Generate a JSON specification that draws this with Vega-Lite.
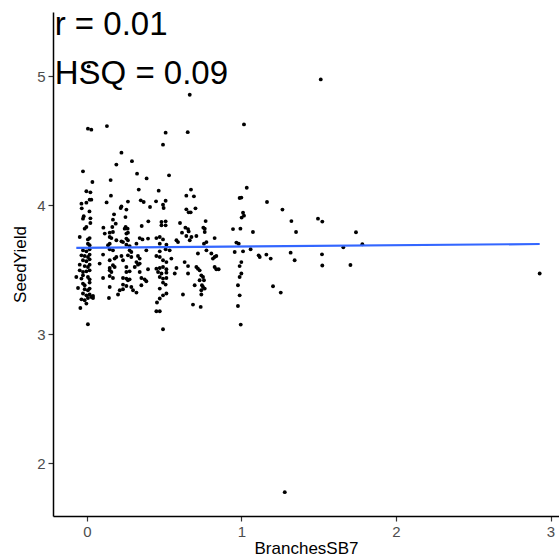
{
"$schema": "https://vega.github.io/schema/vega-lite/v6.json",
"width": 506, "height": 504,
"autosize": {"type": "none"},
"padding": {"left": 53, "top": 12, "right": 0, "bottom": 44},
"background": "white",
"config": {"view": {"stroke": null}, "font": "Liberation Sans"},
"datasets": {
"pts": [
{"b":0.006,"s":4.595},{"b":0.028,"s":4.587},{"b":0.129,"s":4.615},{"b":0.509,"s":4.564},{"b":0.492,"s":4.471},{"b":0.223,"s":4.409},{"b":0.291,"s":4.343},{"b":0.190,"s":4.316},{"b":-0.026,"s":4.264},{"b":0.324,"s":4.246},{"b":0.531,"s":4.233},{"b":0.035,"s":4.181},{"b":0.153,"s":4.196},{"b":0.386,"s":4.209},{"b":0.335,"s":4.122},{"b":0.464,"s":4.114},{"b":-0.004,"s":4.109},{"b":0.022,"s":4.101},{"b":0.155,"s":4.075},{"b":0.017,"s":4.044},{"b":0.028,"s":4.044},{"b":0.348,"s":4.039},{"b":0.367,"s":4.026},{"b":0.447,"s":4.031},{"b":0.509,"s":4.036},{"b":-0.036,"s":4.013},{"b":-0.004,"s":4.021},{"b":0.127,"s":4.023},{"b":0.265,"s":4.029},{"b":0.223,"s":3.992},{"b":0.218,"s":3.979},{"b":0.408,"s":3.987},{"b":0.492,"s":4.005},{"b":0.496,"s":3.979},{"b":-0.034,"s":3.977},{"b":0.255,"s":3.967},{"b":0.016,"s":3.953},{"b":0.175,"s":3.930},{"b":-0.021,"s":3.915},{"b":-0.026,"s":3.897},{"b":0.022,"s":3.899},{"b":0.249,"s":3.909},{"b":0.168,"s":3.889},{"b":0.397,"s":3.876},{"b":0.482,"s":3.871},{"b":0.509,"s":3.876},{"b":0.022,"s":3.863},{"b":0.186,"s":3.858},{"b":-0.004,"s":3.832},{"b":-0.015,"s":3.819},{"b":0.106,"s":3.827},{"b":0.164,"s":3.832},{"b":0.250,"s":3.832},{"b":0.244,"s":3.819},{"b":0.263,"s":3.819},{"b":0.354,"s":3.840},{"b":0.482,"s":3.845},{"b":0.509,"s":3.845},
{"b":0.652,"s":4.568},{"b":1.016,"s":4.628},{"b":0.673,"s":4.122},{"b":0.643,"s":4.075},{"b":0.692,"s":4.070},{"b":1.034,"s":4.137},{"b":0.988,"s":4.057},{"b":0.999,"s":4.060},{"b":1.165,"s":4.026},{"b":0.643,"s":3.969},{"b":0.658,"s":3.946},{"b":0.671,"s":3.946},{"b":0.702,"s":3.977},{"b":1.010,"s":3.943},{"b":1.016,"s":3.920},{"b":1.001,"s":3.905},{"b":0.602,"s":3.863},{"b":0.768,"s":3.878},{"b":0.637,"s":3.827},{"b":0.654,"s":3.816},{"b":0.753,"s":3.827},{"b":0.762,"s":3.819},{"b":0.945,"s":3.816},{"b":0.993,"s":3.819},
{"b":0.147,"s":3.788},{"b":0.168,"s":3.793},{"b":0.115,"s":3.781},{"b":0.265,"s":3.788},{"b":0.255,"s":3.781},{"b":-0.047,"s":3.754},{"b":0.017,"s":3.746},{"b":0.006,"s":3.736},{"b":0.147,"s":3.754},{"b":0.158,"s":3.746},{"b":0.190,"s":3.729},{"b":0.223,"s":3.721},{"b":0.233,"s":3.715},{"b":0.255,"s":3.742},{"b":0.265,"s":3.729},{"b":0.341,"s":3.746},{"b":0.359,"s":3.736},{"b":0.395,"s":3.742},{"b":0.449,"s":3.746},{"b":0.471,"s":3.754},{"b":0.492,"s":3.736},
{"b":0.006,"s":3.703},{"b":0.017,"s":3.690},{"b":0.147,"s":3.703},{"b":0.136,"s":3.690},{"b":0.255,"s":3.695},{"b":0.276,"s":3.684},{"b":0.320,"s":3.703},{"b":0.471,"s":3.703},{"b":0.514,"s":3.695},
{"b":-0.026,"s":3.651},{"b":-0.004,"s":3.643},{"b":0.017,"s":3.659},{"b":0.147,"s":3.659},{"b":0.168,"s":3.651},{"b":0.276,"s":3.651},{"b":0.287,"s":3.638},{"b":0.384,"s":3.651},{"b":0.471,"s":3.643},{"b":0.509,"s":3.659},
{"b":-0.036,"s":3.612},{"b":-0.015,"s":3.607},{"b":0.006,"s":3.599},{"b":0.017,"s":3.618},{"b":0.104,"s":3.618},{"b":0.190,"s":3.599},{"b":0.223,"s":3.607},{"b":0.265,"s":3.612},{"b":0.287,"s":3.599},{"b":0.330,"s":3.607},{"b":0.341,"s":3.587},{"b":0.449,"s":3.607},{"b":0.471,"s":3.599},
{"b":-0.026,"s":3.574},{"b":-0.004,"s":3.566},{"b":0.017,"s":3.581},{"b":0.147,"s":3.574},{"b":0.179,"s":3.587},{"b":0.233,"s":3.574},{"b":0.320,"s":3.560},{"b":0.341,"s":3.548},{"b":0.330,"s":3.540},{"b":0.492,"s":3.574},{"b":0.514,"s":3.560},
{"b":-0.047,"s":3.540},{"b":-0.015,"s":3.529},{"b":0.006,"s":3.522},{"b":0.017,"s":3.540},{"b":0.082,"s":3.548},{"b":0.147,"s":3.514},{"b":0.168,"s":3.535},{"b":0.179,"s":3.522},{"b":0.255,"s":3.522},{"b":0.309,"s":3.522},{"b":0.395,"s":3.504},{"b":0.449,"s":3.509},{"b":0.471,"s":3.514},{"b":0.492,"s":3.522},{"b":0.514,"s":3.504},
{"b":-0.047,"s":3.496},{"b":-0.026,"s":3.483},{"b":-0.004,"s":3.488},{"b":0.017,"s":3.496},{"b":0.147,"s":3.496},{"b":0.158,"s":3.483},{"b":0.255,"s":3.483},{"b":0.276,"s":3.488},{"b":0.341,"s":3.483},{"b":0.460,"s":3.483},{"b":0.482,"s":3.471},{"b":0.514,"s":3.478},
{"b":-0.069,"s":3.444},{"b":-0.036,"s":3.432},{"b":-0.026,"s":3.457},{"b":0.006,"s":3.444},{"b":0.017,"s":3.426},{"b":0.104,"s":3.436},{"b":0.147,"s":3.452},{"b":0.168,"s":3.436},{"b":0.233,"s":3.436},{"b":0.255,"s":3.432},{"b":0.265,"s":3.419},{"b":0.276,"s":3.426},{"b":0.352,"s":3.436},{"b":0.373,"s":3.426},{"b":0.384,"s":3.411},{"b":0.471,"s":3.444},{"b":0.492,"s":3.432},{"b":0.514,"s":3.436},
{"b":-0.026,"s":3.393},{"b":-0.015,"s":3.380},{"b":0.017,"s":3.401},{"b":0.147,"s":3.367},{"b":0.233,"s":3.385},{"b":0.255,"s":3.374},{"b":0.287,"s":3.367},{"b":0.352,"s":3.380},{"b":0.492,"s":3.401},{"b":0.509,"s":3.385},
{"b":-0.058,"s":3.359},{"b":-0.015,"s":3.349},{"b":0.006,"s":3.341},{"b":0.017,"s":3.354},{"b":0.212,"s":3.341},{"b":0.233,"s":3.349},{"b":0.298,"s":3.341},{"b":0.471,"s":3.354},
{"b":-0.026,"s":3.316},{"b":-0.004,"s":3.302},{"b":0.017,"s":3.308},{"b":0.028,"s":3.289},{"b":0.039,"s":3.297},{"b":0.201,"s":3.308},{"b":0.320,"s":3.323},{"b":0.492,"s":3.302},{"b":0.514,"s":3.316},
{"b":-0.036,"s":3.271},{"b":-0.015,"s":3.264},{"b":0.006,"s":3.281},{"b":0.039,"s":3.281},{"b":0.142,"s":3.281},{"b":0.471,"s":3.277},
{"b":-0.004,"s":3.238},{"b":0.453,"s":3.246},{"b":-0.043,"s":3.204},{"b":0.449,"s":3.178},{"b":0.471,"s":3.178},{"b":0.006,"s":3.078},{"b":0.492,"s":3.039},
{"b":0.615,"s":3.788},{"b":0.658,"s":3.798},{"b":0.643,"s":3.762},{"b":0.665,"s":3.729},{"b":0.676,"s":3.754},{"b":0.579,"s":3.729},{"b":0.589,"s":3.715},{"b":0.708,"s":3.762},{"b":0.762,"s":3.793},{"b":0.773,"s":3.715},{"b":0.757,"s":3.703},{"b":0.826,"s":3.746},{"b":1.074,"s":3.793},{"b":0.967,"s":3.711},{"b":0.982,"s":3.703},{"b":0.956,"s":3.638},{"b":1.010,"s":3.643},{"b":1.059,"s":3.659},{"b":1.118,"s":3.599},{"b":1.111,"s":3.612},{"b":1.161,"s":3.618},{"b":1.189,"s":3.587},{"b":0.718,"s":3.626},{"b":0.773,"s":3.651},{"b":0.805,"s":3.626},{"b":0.826,"s":3.599},{"b":0.837,"s":3.607},{"b":0.815,"s":3.587},{"b":0.632,"s":3.560},{"b":0.654,"s":3.529},{"b":0.708,"s":3.522},{"b":0.718,"s":3.509},{"b":0.729,"s":3.496},{"b":0.579,"s":3.514},{"b":0.826,"s":3.522},{"b":0.837,"s":3.504},{"b":0.852,"s":3.504},{"b":0.999,"s":3.560},{"b":0.988,"s":3.529},{"b":0.654,"s":3.471},{"b":0.568,"s":3.471},{"b":0.740,"s":3.457},{"b":0.751,"s":3.444},{"b":0.999,"s":3.471},{"b":0.988,"s":3.444},{"b":0.729,"s":3.419},{"b":0.757,"s":3.419},{"b":0.744,"s":3.380},{"b":0.697,"s":3.380},{"b":0.977,"s":3.380},{"b":0.751,"s":3.367},{"b":0.762,"s":3.354},{"b":0.740,"s":3.341},{"b":1.204,"s":3.372},{"b":0.621,"s":3.308},{"b":0.740,"s":3.308},{"b":0.988,"s":3.302},{"b":0.686,"s":3.230},{"b":0.736,"s":3.212},{"b":0.977,"s":3.219},{"b":0.995,"s":3.075},{"b":0.535,"s":3.651},{"b":0.546,"s":3.587},
{"b":1.265,"s":3.967},{"b":1.323,"s":3.878},{"b":1.353,"s":3.793},{"b":1.318,"s":3.633},{"b":1.344,"s":3.574},{"b":1.254,"s":3.323},{"b":1.495,"s":3.897},{"b":1.523,"s":3.874},{"b":1.521,"s":3.620},{"b":1.523,"s":3.533},{"b":1.659,"s":3.674},{"b":1.705,"s":3.537},{"b":1.741,"s":3.791},{"b":1.782,"s":3.698},{"b":2.930,"s":3.471},
{"b":1.513,"s":4.977},{"b":0.665,"s":4.858},{"b":0.011,"s":5.078},{"b":1.280,"s":1.775}
],
"fit": [{"b":-0.069,"s":3.670},{"b":2.930,"s":3.700}],
"ann": [{"b":-0.209,"s":5.40,"label":"r = 0.01"},{"b":-0.209,"s":5.02,"label":"HSQ = 0.09"}]
},
"encoding": {
"x": {"field": "b", "type": "quantitative",
  "scale": {"domain": [-0.22, 3.055], "nice": false, "zero": false},
  "axis": {"title": "BranchesSB7", "values": [0, 1, 2, 3], "grid": false, "domainColor": "black", "domainWidth": 1.5, "tickColor": "#333333", "tickSize": 5, "tickWidth": 1.2, "labelColor": "#4D4D4D", "labelFontSize": 15, "labelPadding": 3, "titleFontSize": 17, "titleFontWeight": "normal", "titleColor": "black", "titlePadding": 1, "labelFont": "Liberation Sans", "titleFont": "Liberation Sans"}},
"y": {"field": "s", "type": "quantitative",
  "scale": {"domain": [1.59, 5.5], "nice": false, "zero": false},
  "axis": {"title": "SeedYield", "values": [2, 3, 4, 5], "grid": false, "domainColor": "black", "domainWidth": 1.5, "tickColor": "#333333", "tickSize": 5, "tickWidth": 1.2, "labelColor": "#4D4D4D", "labelFontSize": 15, "labelPadding": 3, "titleFontSize": 17, "titleFontWeight": "normal", "titleColor": "black", "titlePadding": 7, "labelFont": "Liberation Sans", "titleFont": "Liberation Sans"}}
},
"layer": [
{"data": {"name": "pts"}, "mark": {"type": "circle", "color": "black", "opacity": 1, "size": 15}},
{"data": {"name": "fit"}, "mark": {"type": "line", "color": "#3366FF", "strokeWidth": 2.2}},
{"data": {"name": "ann"}, "mark": {"type": "text", "align": "left", "baseline": "middle", "fontSize": 33, "font": "Liberation Sans", "color": "black"}, "encoding": {"text": {"field": "label"}}}
]
}
